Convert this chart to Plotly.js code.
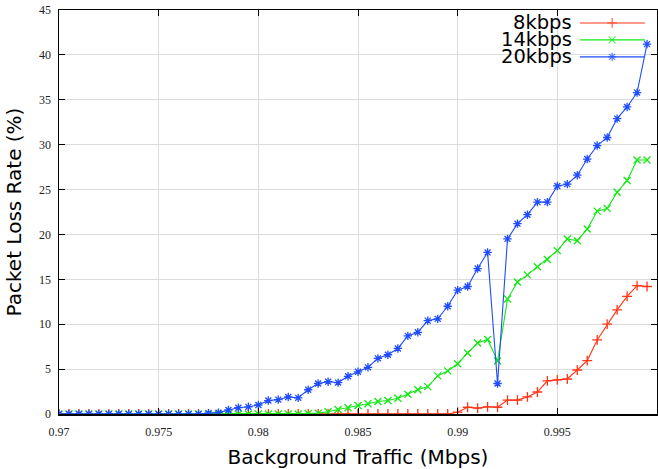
<!DOCTYPE html>
<html>
<head>
<meta charset="utf-8">
<script src="https://cdn.plot.ly/plotly-3.0.1.min.js"></script>
<style>html,body{margin:0;padding:0;background:#fff;}#chart{width:658px;height:469px;}</style>
</head>
<body>
<div id="chart"></div>
<script>
// Background traffic (Mbps), step 0.0005 from 0.97
const xStart = 0.97;
const xStep = 0.0005;
const seriesNames = ["8kbps", "14kbps", "20kbps"];
const loss8 = [0,0,0,0,0,0,0,0,0,0, 0,0,0,0,0,0,0,0,0,0, 0,0,0,0,0,0,0,0,0,0, 0,0,0,0,0,0,0,0,0,0,
  0.2,0.75,0.65,0.8,0.75,1.55,1.55,1.9,2.45,3.7,3.8,3.9,4.9,5.95,8.25,10.0,11.6,13.1,14.3,14.2];
const loss14 = [0,0,0,0,0,0,0,0,0,0, 0,0,0,0,0,0,0,0,0,0, 0,0,0,0,0,
  0.05,0.1,0.25,0.5,0.7,0.95,1.15,1.4,1.5,1.75,2.2,2.7,3.05,4.25,4.8,5.6,6.8,7.9,8.3,5.9,
  12.8,14.7,15.5,16.4,17.2,18.2,19.5,19.3,20.6,22.6,22.9,24.7,26.0,28.3,28.3];
const loss20 = [0,0,0,0,0,0,0,0,0,0, 0,0,0,0,0,0.1,0.15,
  0.45,0.7,0.8,1.0,1.5,1.6,1.9,1.8,2.7,3.4,3.6,3.5,4.2,4.7,5.2,6.2,6.6,7.3,8.7,9.1,10.4,10.6,
  12.0,13.8,14.2,16.2,18.0,3.4,19.5,21.2,22.2,23.6,23.6,25.4,25.6,26.6,28.4,29.9,30.8,32.9,34.2,35.8,41.2];
const xTickVals = [0.97, 0.975, 0.98, 0.985, 0.99, 0.995, 1];
const xTickText = ["0.97", "0.975", "0.98", "0.985", "0.99", "0.995", "1"];
const yTickVals = [0,5,10,15,20,25,30,35,40,45];

const traffic = loss8.map((_, i) => +(xStart + i * xStep).toFixed(4));

const colors = ["#ff3515", "#12e812", "#1f4cff"];
const symbols = ["cross-thin-open", "x-thin-open", "asterisk-open"];
const allY = [loss8, loss14, loss20];

const traces = allY.map((y, k) => ({
  x: traffic, y: y, type: "scatter", mode: "lines+markers",
  name: seriesNames[k], showlegend: false,
  line: {color: colors[k], width: 1.1},
  marker: {symbol: symbols[k], size: 7, color: colors[k], line: {color: colors[k], width: 1.3}}
}));

// custom gnuplot-style key (text left of sample)
const keyX = [0.871, 0.925, 0.98];
const keyRows = [0.968, 0.926, 0.884];
const annotations = [];
seriesNames.forEach((n, k) => {
  traces.push({
    x: keyX, y: [keyRows[k], keyRows[k], keyRows[k]], xaxis: "x2", yaxis: "y2",
    type: "scatter", mode: "lines+markers", showlegend: false, hoverinfo: "skip",
    line: {color: colors[k], width: 1.1},
    marker: {symbol: symbols[k], size: [0, 7, 0], color: colors[k], line: {color: colors[k], width: 1.3}}
  });
  annotations.push({
    xref: "paper", yref: "paper", x: 0.862, y: keyRows[k], xanchor: "right", yanchor: "middle",
    text: n, showarrow: false, font: {family: "DejaVu Sans", size: 19.5, color: "#000"}
  });
});

const layout = {
  width: 658, height: 469,
  margin: {l: 59, r: 1, t: 10, b: 55},
  paper_bgcolor: "#fff", plot_bgcolor: "#fff",
  showlegend: false,
  xaxis: {
    range: [0.97, 1], tickvals: xTickVals, ticktext: xTickText,
    showgrid: true, gridcolor: "#dcdcdc", gridwidth: 1, zeroline: false,
    showline: true, linecolor: "#000", linewidth: 1.5, mirror: "allticks",
    ticks: "inside", ticklen: 6, tickcolor: "#000", tickwidth: 1,
    tickfont: {family: "Liberation Serif", size: 12, color: "#222"},
    ticklabelstandoff: 6,
    title: {text: "Background Traffic (Mbps)", font: {family: "DejaVu Sans", size: 20, color: "#000"}, standoff: 14}
  },
  yaxis: {
    range: [0, 45], tickvals: yTickVals,
    showgrid: true, gridcolor: "#dcdcdc", gridwidth: 1, zeroline: false,
    showline: true, linecolor: "#000", linewidth: 1.5, mirror: "allticks",
    ticks: "inside", ticklen: 6, tickcolor: "#000", tickwidth: 1,
    tickfont: {family: "Liberation Serif", size: 12, color: "#222"},
    ticklabelstandoff: 4,
    title: {text: "Packet Loss Rate (%)", font: {family: "DejaVu Sans", size: 20, color: "#000"}, standoff: 12}
  },
  xaxis2: {overlaying: "x", range: [0, 1], visible: false, fixedrange: true},
  yaxis2: {overlaying: "y", range: [0, 1], visible: false, fixedrange: true},
  annotations: annotations
};

Plotly.newPlot("chart", traces, layout, {displayModeBar: false, staticPlot: true});
</script>
</body>
</html>
